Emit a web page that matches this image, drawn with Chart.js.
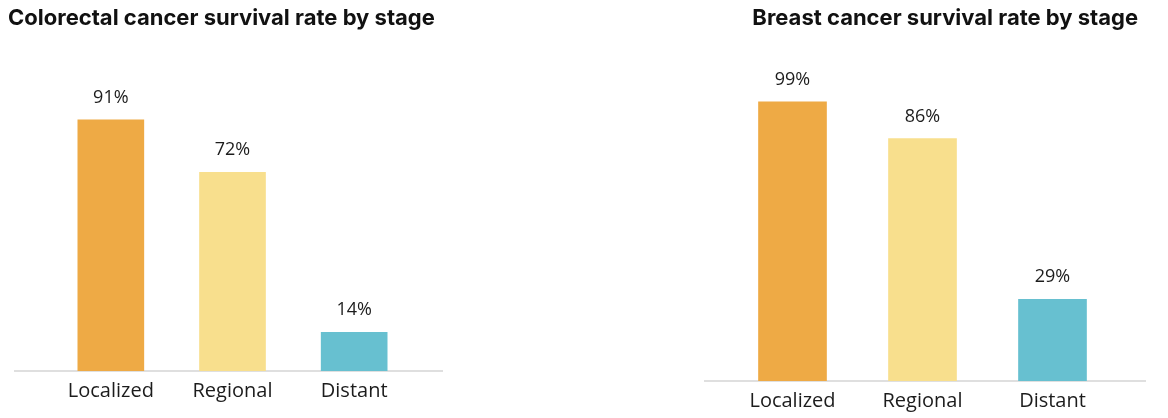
<!DOCTYPE html>
<html>
<head>
<meta charset="utf-8">
<script src="https://cdn.jsdelivr.net/npm/chart.js@4"></script>
<style>
  html, body { margin: 0; padding: 0; background: #fff; }
  body { width: 1168px; height: 418px; position: relative; overflow: hidden; }
  .box { position: absolute; top: 0; }
</style>
</head>
<body>
<div class="box" style="left:0"><canvas id="colorectal" width="450" height="418"></canvas></div>
<div class="box" style="left:690px"><canvas id="breast" width="478" height="418"></canvas></div>
<script>
const stages = ['Localized', 'Regional', 'Distant'];
const colorectalRates = [91, 72, 14];
const breastRates = [99, 86, 29];
const stageColors = ['#eeaa45', '#f8df8d', '#67c0d0'];

const ink = '#1c1c1c';
const labelFont = { family: '"Open Sans", sans-serif', size: 18 };
const tickFont = { family: '"Open Sans", sans-serif', size: 20 };
const titleFont = { family: 'Inter, sans-serif', size: 22, weight: 'bold' };

// value labels above each bar
const valueLabels = {
  id: 'valueLabels',
  afterDatasetsDraw(chart) {
    const { ctx } = chart;
    const meta = chart.getDatasetMeta(0);
    ctx.save();
    ctx.font = `${labelFont.size}px ${labelFont.family}`;
    ctx.fillStyle = ink;
    ctx.textAlign = 'center';
    ctx.textBaseline = 'middle';
    meta.data.forEach((bar, i) => {
      ctx.fillText(chart.data.datasets[0].data[i] + '%', bar.x, bar.y - 22);
    });
    ctx.restore();
  }
};

// grey baseline that runs wider than the bars
const baseline = {
  id: 'baseline',
  beforeDatasetsDraw(chart, args, opts) {
    const { ctx } = chart;
    const y = chart.scales.y.getPixelForValue(0);
    ctx.save();
    ctx.strokeStyle = '#d4d4d4';
    ctx.lineWidth = 1.5;
    ctx.beginPath();
    ctx.moveTo(opts.from, y);
    ctx.lineTo(opts.to, y);
    ctx.stroke();
    ctx.restore();
  }
};

// invisible axis, only there to take up width
function spacer(position, width) {
  return {
    position,
    grid: { display: false },
    border: { display: false },
    ticks: { display: false },
    afterFit(scale) { scale.width = width; }
  };
}

function makeChart(id, title, rates, o) {
  return new Chart(document.getElementById(id), {
    type: 'bar',
    data: {
      labels: stages,
      datasets: [{
        data: rates,
        backgroundColor: stageColors,
        borderWidth: 0,
        barThickness: o.barWidth
      }]
    },
    options: {
      responsive: false,
      animation: false,
      layout: { padding: { left: o.padLeft, right: o.padRight, top: 0, bottom: 0 } },
      scales: {
        x: {
          grid: { display: false, drawTicks: false },
          border: { display: false },
          ticks: { color: ink, font: tickFont, padding: 8 },
          afterFit(scale) { scale.height = o.axisHeight; }
        },
        y: Object.assign(spacer('left', o.leftGap), { min: 0, max: 100 }),
        gapRight: spacer('right', o.rightGap)
      },
      plugins: {
        legend: { display: false },
        tooltip: { enabled: false },
        title: {
          display: true,
          text: title,
          align: o.titleAlign,
          color: '#111',
          font: titleFont,
          padding: { top: 5, bottom: o.titleGap }
        },
        baseline: { from: o.lineFrom, to: o.lineTo }
      }
    },
    plugins: [baseline, valueLabels]
  });
}

makeChart('colorectal', 'Colorectal cancer survival rate by stage', colorectalRates, {
  padLeft: 8, padRight: 4, leftGap: 42, rightGap: 31,
  axisHeight: 47, titleGap: 63.6, titleAlign: 'start',
  barWidth: 66, lineFrom: 14, lineTo: 443
});

makeChart('breast', 'Breast cancer survival rate by stage', breastRates, {
  padLeft: 4, padRight: 30, leftGap: 33.5, rightGap: 20.5,
  axisHeight: 37, titleGap: 67.6, titleAlign: 'end',
  barWidth: 68, lineFrom: 14, lineTo: 456
});
</script>
</body>
</html>
